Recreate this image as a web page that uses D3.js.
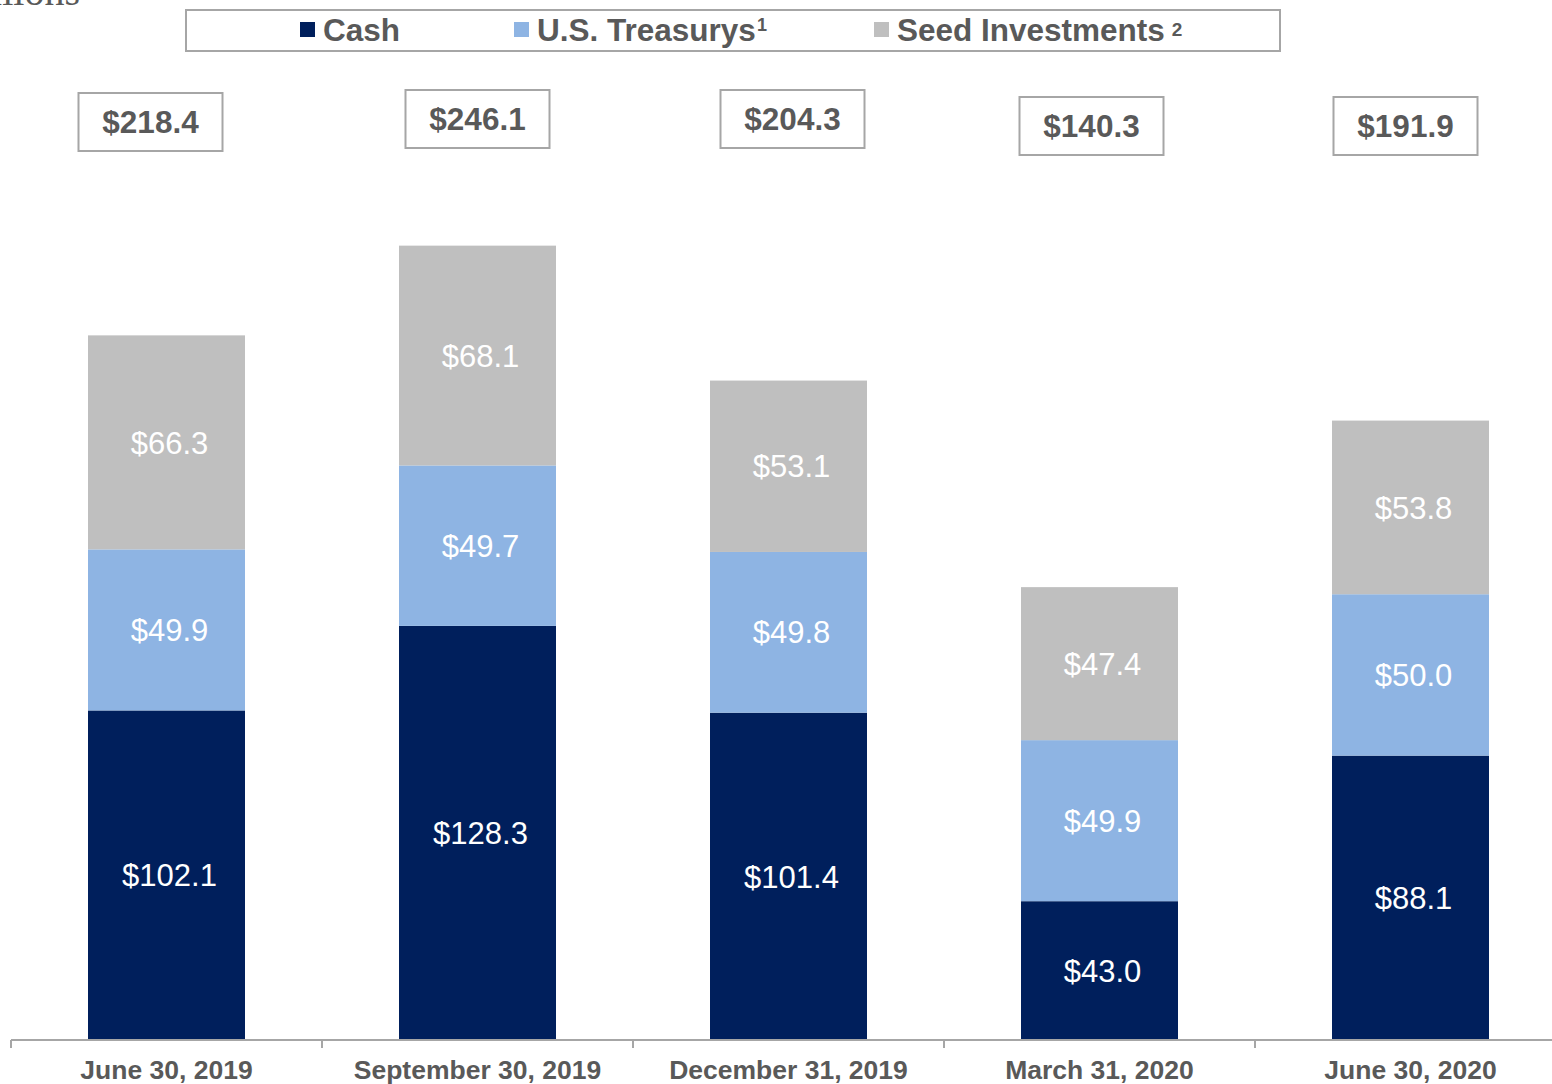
<!DOCTYPE html>
<html>
<head>
<meta charset="utf-8">
<script src="https://cdn.jsdelivr.net/npm/d3@7"></script>
<style>
  body { margin: 0; background: #fff; }
  svg { display: block; }
</style>
</head>
<body>
<svg id="chart" width="1552" height="1084"></svg>
<script>
// Data ($ in millions)
var categories = ["June 30, 2019", "September 30, 2019", "December 31, 2019", "March 31, 2020", "June 30, 2020"];
var cash = [102.1, 128.3, 101.4, 43.0, 88.1];
var treasurys = [49.9, 49.7, 49.8, 49.9, 50.0];
var seed = [66.3, 68.1, 53.1, 47.4, 53.8];
var totals = [218.4, 246.1, 204.3, 140.3, 191.9];
var seriesNames = ["Cash", "U.S. Treasurys", "Seed Investments"];
var seriesSup = ["", "1", "2"];

var colors = ["#001f5c", "#8eb4e3", "#bfbfbf"];
var textGray = "#595959";
var lineGray = "#a6a6a6";

// total box nudges, as laid out on the slide
var boxDx = [-16, 0, 4, -8, -5];
var boxTop = [93, 90, 90, 97, 97];

var width = 1552, height = 1084;
var svg = d3.select("#chart");

var x = d3.scaleBand()
  .domain(categories)
  .range([11, 1566])
  .paddingInner(0)
  .paddingOuter(0);

var barW = 157;

var y = d3.scaleLinear()
  .domain([0, 322.2])
  .range([1040, 0]);

var rows = categories.map(function (c, i) {
  return { cat: c, Cash: cash[i], Treas: treasurys[i], Seed: seed[i] };
});
var stack = d3.stack().keys(["Cash", "Treas", "Seed"]);
var layers = stack(rows);

// bars
var g = svg.append("g");
layers.forEach(function (layer, k) {
  g.selectAll(".seg" + k)
    .data(layer)
    .enter()
    .append("rect")
    .attr("x", (d) => x(d.data.cat) + x.bandwidth() / 2 - barW / 2)
    .attr("y", (d) => y(d[1]))
    .attr("width", barW)
    .attr("height", (d) => y(d[0]) - y(d[1]))
    .attr("fill", colors[k]);

  g.selectAll(".lab" + k)
    .data(layer)
    .enter()
    .append("text")
    .attr("x", (d) => x(d.data.cat) + x.bandwidth() / 2 + 3)
    .attr("y", (d) => (y(d[0]) + y(d[1])) / 2)
    .attr("dy", "0.36em")
    .attr("text-anchor", "middle")
    .attr("font-family", "Liberation Sans, Arial, sans-serif")
    .attr("font-size", 31)
    .attr("fill", "#fff")
    .text((d) => "$" + (d[1] - d[0]).toFixed(1));
});

// axis
var ax = svg.append("g").attr("transform", "translate(0,1040)");
ax.append("line")
  .attr("x1", 11).attr("x2", width)
  .attr("y1", 0).attr("y2", 0)
  .attr("stroke", lineGray).attr("stroke-width", 2);
ax.selectAll(".tk")
  .data(categories)
  .enter()
  .append("line")
  .attr("x1", (d) => x(d)).attr("x2", (d) => x(d))
  .attr("y1", 0).attr("y2", 8)
  .attr("stroke", lineGray).attr("stroke-width", 2);
ax.selectAll(".cl")
  .data(categories)
  .enter()
  .append("text")
  .attr("x", (d) => x(d) + x.bandwidth() / 2)
  .attr("y", 39)
  .attr("text-anchor", "middle")
  .attr("font-family", "Liberation Sans, Arial, sans-serif")
  .attr("font-weight", "bold")
  .attr("font-size", 26.5)
  .attr("fill", textGray)
  .text((d) => d);

// total boxes
var tb = svg.selectAll(".tot")
  .data(totals)
  .enter()
  .append("g")
  .attr("transform", (d, i) => "translate(" + (x(categories[i]) + x.bandwidth() / 2 + boxDx[i]) + "," + boxTop[i] + ")");
tb.append("rect")
  .attr("x", -72).attr("y", 0)
  .attr("width", 144).attr("height", 58)
  .attr("fill", "#fff")
  .attr("stroke", lineGray).attr("stroke-width", 2);
tb.append("text")
  .attr("x", 0).attr("y", 29)
  .attr("dy", "0.36em")
  .attr("text-anchor", "middle")
  .attr("font-family", "Liberation Sans, Arial, sans-serif")
  .attr("font-weight", "bold")
  .attr("font-size", 31.5)
  .attr("fill", textGray)
  .text((d) => "$" + d.toFixed(1));

// legend
svg.append("rect")
  .attr("x", 186).attr("y", 10)
  .attr("width", 1094).attr("height", 41)
  .attr("fill", "#fff")
  .attr("stroke", lineGray).attr("stroke-width", 2);
var legX = [300, 514, 874];
var leg = svg.selectAll(".leg")
  .data(seriesNames)
  .enter()
  .append("g")
  .attr("transform", (d, i) => "translate(" + legX[i] + ",22)");
leg.append("rect")
  .attr("width", 15).attr("height", 15)
  .attr("fill", (d, i) => colors[i]);
var lt = leg.append("text")
  .attr("x", 23).attr("y", 19)
  .attr("font-family", "Liberation Sans, Arial, sans-serif")
  .attr("font-weight", "bold")
  .attr("font-size", 31.5)
  .attr("fill", textGray);
lt.append("tspan").text((d) => d);
lt.append("tspan")
  .style("font-size", (d, i) => (i == 2 ? "19px" : "18px"))
  .attr("dy", (d, i) => (i == 2 ? -5 : -10))
  .attr("dx", (d, i) => (i == 2 ? 7 : 1))
  .text((d, i) => seriesSup[i]);

// unit note, cut off at top-left as on the slide
svg.append("text")
  .attr("x", 80).attr("y", 5)
  .attr("text-anchor", "end")
  .attr("font-family", "Liberation Serif, DejaVu Serif, serif")
  .attr("font-size", 40)
  .attr("fill", textGray)
  .text("$ in millions");
</script>
</body>
</html>
